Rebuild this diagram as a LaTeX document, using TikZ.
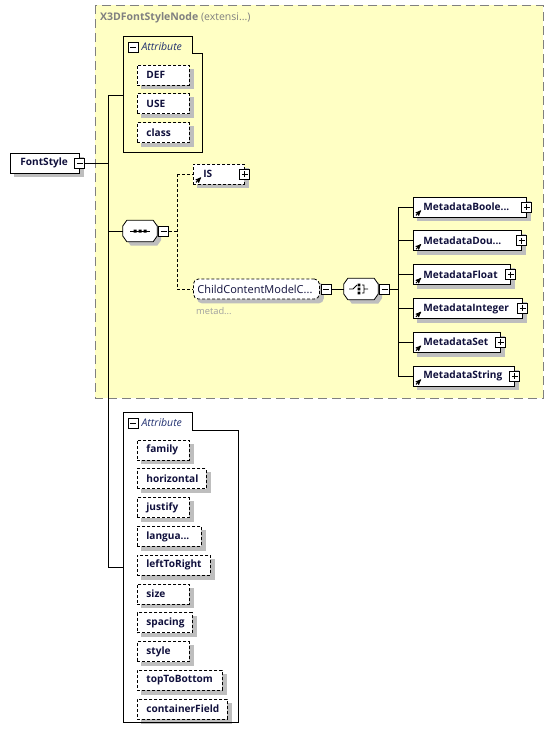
\documentclass[tikz,border=0pt]{standalone}
\usepackage{fontspec}
\setmainfont{Open Sans}
\usetikzlibrary{arrows,positioning}
\definecolor{groupfill}{HTML}{FFFFC4}
\definecolor{groupline}{HTML}{808080}
\definecolor{shadowgray}{HTML}{BEBEBE}
\definecolor{ink}{HTML}{10103C}
\definecolor{attrink}{HTML}{203070}
\definecolor{dimtext}{HTML}{A0A0A0}
\pgfdeclarelayer{groundlayer}
\pgfdeclarelayer{shadowlayer}
\pgfsetlayers{groundlayer,shadowlayer,main}
\tikzset{>=stealth',x=1pt,y=-1pt}
\tikzset{box/.style={draw,fill=white,line width=0.8pt,minimum height=20pt,inner ysep=0pt,inner xsep=10pt,
    anchor=west,align=left,text=ink,font=\bfseries\fontsize{10.1}{11}\selectfont}}
\tikzset{elem/.style={box,text width=#1}}
\tikzset{attr/.style={box,dash pattern=on 3pt off 2pt,inner xsep=9pt,text width=#1}}
\tikzset{pm/.style={draw,fill=white,line width=0.7pt,minimum size=10pt,inner sep=0pt}}
\tikzset{minus/.style={pm,path picture={\draw[line width=0.7pt]
    ([xshift=2pt]path picture bounding box.west) -- ([xshift=-2pt]path picture bounding box.east);}}}
\tikzset{plus/.style={pm,path picture={\draw[line width=0.7pt]
    ([xshift=2pt]path picture bounding box.west) -- ([xshift=-2pt]path picture bounding box.east)
    ([yshift=-2pt]path picture bounding box.north) -- ([yshift=2pt]path picture bounding box.south);}}}
\tikzset{panel/.style={draw,line width=0.8pt}}
\tikzset{attrhead/.style={inner sep=0pt,anchor=west,text=attrink,font=\itshape\fontsize{10.5}{11}\selectfont}}
\tikzset{link/.style={line width=0.8pt}}
\tikzset{optlink/.style={line width=0.8pt,dash pattern=on 3pt off 2pt}}
\tikzset{refarrow/.style={->,line width=1pt,shorten >=0pt}}
\tikzset{compositor/.style={minimum width=34pt,minimum height=21pt,inner sep=0pt}}
\tikzset{compframe/.style={draw,fill=white,line width=0.8pt}}
\tikzset{shadowfill/.style={fill=shadowgray,transform canvas={shift={(4pt,-4pt)}}}}

\begin{document}
\begin{tikzpicture}
\useasboundingbox (0,0) rectangle (554,740);
% group of the abstract node type
\begin{pgfonlayer}{groundlayer}
\draw[fill=groupfill,draw=groupline,line width=1pt,dash pattern=on 9pt off 5pt] (95,5) rectangle (543,398);
\end{pgfonlayer}
\node[anchor=west,inner sep=0pt,text=groupline,font=\bfseries\fontsize{10.5}{11}\selectfont] (gtitle) at (100,18)
    {X3DFontStyleNode \textmd{(extensi...)}};

% inherited attributes
\draw[panel] (123,36) -| (192,53) -| (202,152) -| cycle;
\node[minus] (attAm) at (133,47) {};
\node[attrhead,right=3pt of attAm] (attAh) {Attribute};
\node[attr=34pt] (def) at (137,75) {DEF};
\node[attr=34pt] (use) [below=8pt of def.south west,anchor=north west] {USE};
\node[attr=34pt] (cls) [below=8pt of use.south west,anchor=north west] {class};
\coordinate (attA) at (123,95);

% root element
\node[elem=49pt] (fs) at (10,163) {FontStyle};
\node[minus] (fsm) at (fs.east) {};
\coordinate (busTop) at (108,95);
\coordinate (busBot) at (108,567);

% sequence
\node[compositor] (seq) at (140,231) {};
\draw[compframe] ([xshift=4pt]seq.north west) -- ([xshift=-4pt]seq.north east) -- ([yshift=5pt]seq.east)
    -- ([yshift=-5pt]seq.east) -- ([xshift=-4pt]seq.south east) -- ([xshift=4pt]seq.south west)
    -- ([yshift=-5pt]seq.west) -- ([yshift=5pt]seq.west) -- cycle;
\node[minus,right=1pt of seq] (seqm) {};
\draw[line width=0.9pt] ([xshift=-10pt]seq.center) -- ([xshift=10pt]seq.center);
\fill ([xshift=-5pt]seq.center) +(-1.5,-1.5) rectangle +(1.5,1.5)
      (seq.center) +(-1.5,-1.5) rectangle +(1.5,1.5)
      ([xshift=5pt]seq.center) +(-1.5,-1.5) rectangle +(1.5,1.5);
\coordinate (seqBus) at (177,231);

\node[elem=31pt,dash pattern=on 3pt off 2pt] (is) at (193,174) {IS};
\node[plus] (isp) at (is.east) {};
\node[box,rounded corners=5pt,dash pattern=on 3pt off 2pt,inner xsep=4pt,text width=118pt,
    font=\fontsize{11}{12}\selectfont] (ccm) at (193,289) {ChildContentModelC...};
\node[minus,right=1pt of ccm] (ccmm) {};
\node[anchor=west,inner sep=0pt,text=dimtext,font=\fontsize{9.3}{10}\selectfont] (ccmn) at (196,311) {metad...};

% choice
\node[compositor] (ch) at (361,289) {};
\draw[compframe] ([xshift=4pt]ch.north west) -- ([xshift=-4pt]ch.north east) -- ([yshift=5pt]ch.east)
    -- ([yshift=-5pt]ch.east) -- ([xshift=-4pt]ch.south east) -- ([xshift=4pt]ch.south west)
    -- ([yshift=-5pt]ch.west) -- ([yshift=5pt]ch.west) -- cycle;
\node[minus,right=1pt of ch] (chm) {};
\draw[line width=0.9pt] ([xshift=-12pt]ch.center) -- ([xshift=-8pt]ch.center) -- ([shift={(-4pt,4pt)}]ch.center)
    ([shift={(1pt,4pt)}]ch.center) -- ([shift={(3pt,4pt)}]ch.center) -- ([shift={(3pt,-4pt)}]ch.center)
    -- ([shift={(1pt,-4pt)}]ch.center) ([xshift=3pt]ch.center) -- ([xshift=7pt]ch.center);
\fill ([shift={(-2pt,4pt)}]ch.center) +(-1.3,-1.3) rectangle +(1.3,1.3)
      ([xshift=-2pt]ch.center) +(-1.3,-1.3) rectangle +(1.3,1.3)
      ([shift={(-2pt,-4pt)}]ch.center) +(-1.3,-1.3) rectangle +(1.3,1.3);
\coordinate (chBus) at (398,289);

\node[elem=93pt] (mb) at (413,207) {MetadataBoole...};
\node[elem=88pt] (md) [below=13pt of mb.south west,anchor=north west] {MetadataDou...};
\node[elem=77pt] (mf) [below=13pt of md.south west,anchor=north west] {MetadataFloat};
\node[elem=89pt] (mi) [below=13pt of mf.south west,anchor=north west] {MetadataInteger};
\node[elem=67pt] (mset) [below=13pt of mi.south west,anchor=north west] {MetadataSet};
\node[elem=81pt] (mstr) [below=13pt of mset.south west,anchor=north west] {MetadataString};
\node[plus] (mbp) at (mb.east) {};
\node[plus] (mdp) at (md.east) {};
\node[plus] (mfp) at (mf.east) {};
\node[plus] (mip) at (mi.east) {};
\node[plus] (msetp) at (mset.east) {};
\node[plus] (mstrp) at (mstr.east) {};

% reference marks
\draw[refarrow] ([shift={(3pt,2pt)}]is.south west) -- +(5,-5);
\draw[refarrow] ([shift={(3pt,2pt)}]mb.south west) -- +(5,-5);
\draw[refarrow] ([shift={(3pt,2pt)}]md.south west) -- +(5,-5);
\draw[refarrow] ([shift={(3pt,2pt)}]mf.south west) -- +(5,-5);
\draw[refarrow] ([shift={(3pt,2pt)}]mi.south west) -- +(5,-5);
\draw[refarrow] ([shift={(3pt,2pt)}]mset.south west) -- +(5,-5);
\draw[refarrow] ([shift={(3pt,2pt)}]mstr.south west) -- +(5,-5);

% own attributes
\draw[panel] (123,412) -| (192,430) -| (238,722) -| cycle;
\node[minus] (attBm) at (133,423) {};
\node[attrhead,right=3pt of attBm] (attBh) {Attribute};
\node[attr=34pt] (fam) at (137,450) {family};
\node[attr=51pt] (hor) [below=8pt of fam.south west,anchor=north west] {horizontal};
\node[attr=34pt] (jus) [below=8pt of hor.south west,anchor=north west] {justify};
\node[attr=46pt] (lang) [below=8pt of jus.south west,anchor=north west] {langua...};
\node[attr=55pt] (ltr) [below=8pt of lang.south west,anchor=north west] {leftToRight};
\node[attr=34pt] (siz) [below=8pt of ltr.south west,anchor=north west] {size};
\node[attr=37pt] (spc) [below=8pt of siz.south west,anchor=north west] {spacing};
\node[attr=34pt] (sty) [below=8pt of spc.south west,anchor=north west] {style};
\node[attr=67pt] (ttb) [below=8pt of sty.south west,anchor=north west] {topToBottom};
\node[attr=72pt] (cf) [below=8pt of ttb.south west,anchor=north west] {containerField};
\coordinate (attB) at (123,567);

% shadows
\begin{pgfonlayer}{shadowlayer}
\foreach \n in {def,use,cls,fs,is,mb,md,mf,mi,mset,mstr,fam,hor,jus,lang,ltr,siz,spc,sty,ttb,cf}
    \fill[shadowfill] (\n.north west) rectangle (\n.south east);
\fill[shadowfill,rounded corners=5pt] (ccm.north west) rectangle (ccm.south east);
\fill[shadowfill] ([xshift=4pt]seq.north west) -- ([xshift=-4pt]seq.north east) -- ([yshift=5pt]seq.east)
    -- ([yshift=-5pt]seq.east) -- ([xshift=-4pt]seq.south east) -- ([xshift=4pt]seq.south west)
    -- ([yshift=-5pt]seq.west) -- ([yshift=5pt]seq.west) -- cycle;
\fill[shadowfill] ([xshift=4pt]ch.north west) -- ([xshift=-4pt]ch.north east) -- ([yshift=5pt]ch.east)
    -- ([yshift=-5pt]ch.east) -- ([xshift=-4pt]ch.south east) -- ([xshift=4pt]ch.south west)
    -- ([yshift=-5pt]ch.west) -- ([yshift=5pt]ch.west) -- cycle;
\end{pgfonlayer}

% connectors
\draw[link] (fsm.east) -- (fsm.east -| busTop);
\draw[link] (busTop) -- (busBot);
\draw[link] (busTop) -- (attA);
\draw[link] (busBot) -- (attB);
\draw[link] (seq.west -| busTop) -- (seq.west);
\draw[optlink] (seqm.east) -- (seqBus);
\draw[optlink] (is.west -| seqBus) -- (ccm.west -| seqBus);
\draw[optlink] (is.west -| seqBus) -- (is.west);
\draw[optlink] (ccm.west -| seqBus) -- (ccm.west);
\draw[link] (ccmm.east) -- (ch.west);
\draw[link] (chm.east) -- (chBus);
\draw[link] (mb.west -| chBus) -- (mstr.west -| chBus);
\draw[link] (mb.west -| chBus) -- (mb.west);
\draw[link] (md.west -| chBus) -- (md.west);
\draw[link] (mf.west -| chBus) -- (mf.west);
\draw[link] (mi.west -| chBus) -- (mi.west);
\draw[link] (mset.west -| chBus) -- (mset.west);
\draw[link] (mstr.west -| chBus) -- (mstr.west);
\end{tikzpicture}
\end{document}
